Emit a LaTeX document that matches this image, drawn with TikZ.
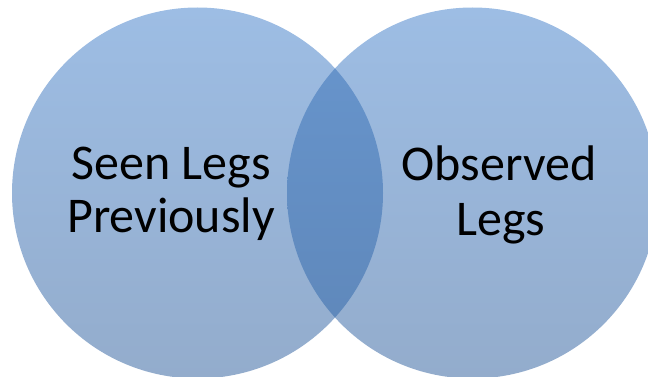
\documentclass[tikz,border=0pt]{standalone}
\usepackage{fontspec}
\setmainfont{Carlito}
\definecolor{ctop}{RGB}{157,189,228}
\definecolor{cbot}{RGB}{147,172,204}
\definecolor{ltop}{RGB}{104,150,206}
\definecolor{lbot}{RGB}{94,134,184}
\tikzset{
  setfill/.style={top color=ctop, bottom color=cbot, draw=none},
  lensfill/.style={top color=ltop, bottom color=lbot, draw=none},
  label/.style={anchor=base, inner sep=0pt, font=\fontsize{50}{54}\selectfont, text=black}
}
\begin{document}
\begin{tikzpicture}[x=1pt,y=-1pt]
\useasboundingbox (0,0) rectangle (648,377);
\coordinate (cl) at (197.5,193);
\coordinate (cr) at (472.5,193);
\shade[setfill] (cl) circle[radius=185.5pt];
\shade[setfill] (cr) circle[radius=185.5pt];
\begin{scope}
  \clip (cl) circle[radius=185.5pt];
  \shade[lensfill] (cr) circle[radius=185.5pt];
\end{scope}
\node[label] (l1) at (171,179) {Seen Legs};
\node[label] (l2) at (171,232) {Previously};
\node[label] (r1) at (499,180) {Observed};
\node[label] (r2) at (501,235) {Legs};
\end{tikzpicture}
\end{document}
